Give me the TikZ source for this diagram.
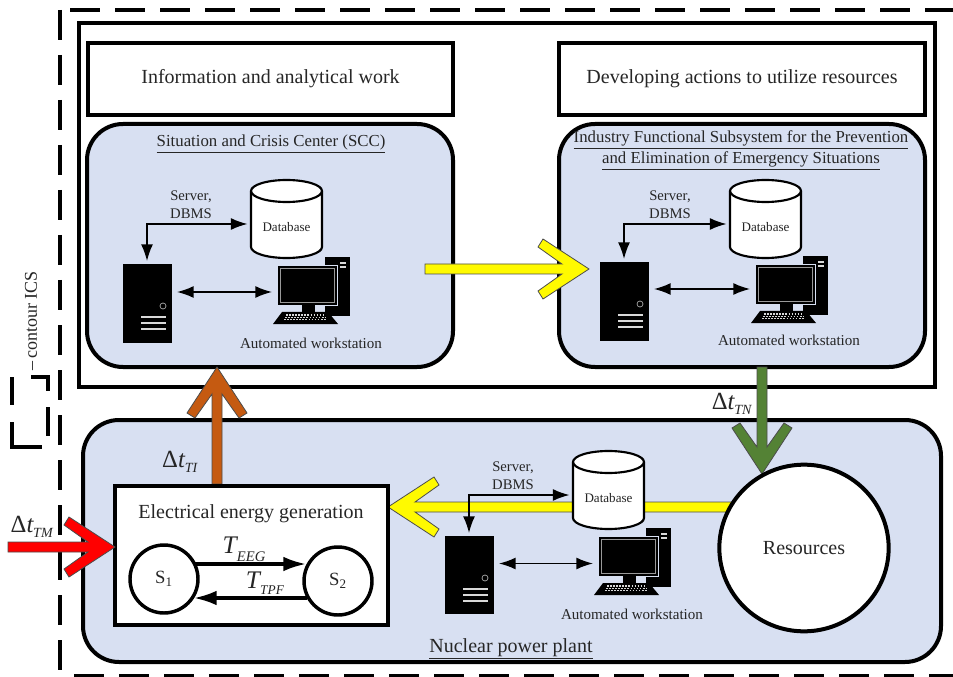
\documentclass[tikz,border=0pt]{standalone}
\usepackage{fontspec}
\setmainfont{Liberation Serif}
\usetikzlibrary{arrows.meta,shapes.geometric,calc}
\definecolor{panel}{RGB}{216,224,242}
\definecolor{ylw}{RGB}{255,250,0}
\definecolor{brn}{RGB}{197,90,17}
\definecolor{grn}{RGB}{84,130,53}
\definecolor{red2}{RGB}{255,0,0}
\tikzset{
 every node/.style={outer sep=0pt},
 panelbox/.style={draw,line width=3pt,fill=panel,rounded corners=27pt},
 whitebox/.style={draw,line width=3pt,fill=white},
 dashline/.style={line width=3pt,dash pattern=on 22.5pt off 11.25pt},
 thinarrow/.style={line width=1.2pt,{Latex[length=12.5pt,width=9pt]}-{Latex[length=12.5pt,width=9pt]}},
 midarrow/.style={line width=2.4pt,-{Latex[length=17pt,width=11pt]}},
 capt/.style={font=\fontsize{11.3pt}{13.5pt}\selectfont,text=black!85},
 ttl/.style={font=\fontsize{15pt}{17pt}\selectfont,text=black!85},
 hdr/.style={font=\fontsize{12.6pt}{14pt}\selectfont,text=black!85},
 statec/.style={circle,draw,line width=2.6pt,fill=white,minimum size=51pt,inner sep=0,font=\fontsize{14pt}{16pt}\selectfont,text=black!85},
 mathl/.style={text=black!85},
}
\newcommand{\dlab}[1]{{\fontsize{18.5pt}{20pt}\selectfont \char"0394\textit{t}\kern-0.5pt\raisebox{-3.5pt}{\fontsize{10.5pt}{12pt}\selectfont\textit{#1}}}}
\newcommand{\tlab}[3]{{\fontsize{19pt}{20pt}\selectfont \textit{T}\kern-1pt\raisebox{#3}{\fontsize{#2}{12pt}\selectfont\textit{#1}}}}
% open fat arrow: tip coordinate, length (px), canvas angle, colour
\newcommand{\fatarrow}[4]{%
 \begin{scope}[shift={(#1)},rotate=#3]
 \draw[draw=black!70,line width=0.6pt,fill=#4,line join=miter]
  (0,0)--(-46,30)--(-51,22)--(-27,5)--(-#2,5)--(-#2,-5)--(-27,-5)--(-51,-22)--(-46,-30)--cycle;
 \end{scope}}
% server tower
\newcommand{\servernode}[4]{% name,x,y(top left), h
 \node[fill=black,draw=black,minimum width=36pt,minimum height=#4*0.75pt,inner sep=0,anchor=north west] (#1) at (#2,#3) {};
 \draw[white!70!black,line width=0.5pt] ($(#1.north west)+(40,42)$) circle (3);
 \foreach \dy in {53,59,65}{\draw[white!85!black,line width=1pt] ($(#1.north west)+(18,\dy)$)--++(25,0);}
}
% database
\newcommand{\dbnode}[3]{% name, x, y (top-left)
 \draw[fill=white,line width=1.6pt] (#2,#3+11) arc[start angle=180,end angle=360,x radius=35.5,y radius=11]
   -- (#2+71,#3+67) arc[start angle=0,end angle=180,x radius=35.5,y radius=11] -- cycle;
 \draw[line width=1.6pt] (#2,#3+11) arc[start angle=180,end angle=0,x radius=35.5,y radius=11];
 \node[capt,font=\fontsize{9.8pt}{11pt}\selectfont] (#1) at (#2+35.5,#3+47) {Database};
}
% workstation
\newcommand{\wsnode}[3]{%
 \fill[black] (#2+48,#3) rectangle (#2+73,#3+59);
 \fill[white!85!black] (#2+63,#3+5) rectangle (#2+69,#3+7);
 \fill[white!85!black] (#2+63,#3+9) rectangle (#2+69,#3+11);
 \path[fill=black,draw=panel,line width=0.6pt] (#2,#3+8) rectangle (#2+60,#3+48);
 \draw[white!60!black,line width=0.4pt] (#2+3,#3+11) rectangle (#2+57,#3+45);
 \fill[black] (#2+25,#3+48) rectangle (#2+38,#3+55);
 \fill[black] (#2+5,#3+55) -- (#2+51,#3+55) -- (#2+61,#3+67) -- (#2-4,#3+67) -- cycle;
 \foreach \k in {0,1,2}{\draw[white!85!black,line width=0.8pt,dash pattern=on 1.3pt off 1pt] (#2+9-\k,#3+58+2.3*\k)--(#2+47+\k,#3+58+2.3*\k);}
 \coordinate (#1) at (#2-5,#3+35);
}
\begin{document}
\begin{tikzpicture}[x=0.75pt,y=-0.75pt]
\useasboundingbox (0,0) rectangle (953,677);
\fill[white] (0,0) rectangle (953,677);
% outer contour
\coordinate (o1) at (60,10); \coordinate (o2) at (60,677);
\coordinate (o3) at (70,10); \coordinate (o4) at (953,10);
\coordinate (o5) at (74,676); \coordinate (o6) at (953,676);
\draw[dashline] (o1)--(o2);
\draw[dashline] (o3)--(o4);
\draw[dashline] (o5)--(o6);
% legend
\draw[line width=3pt] (31,377)--(48,377)--(48,391);
\draw[line width=3pt] (12,377)--(12,405);
\draw[line width=3pt] (48,407)--(48,436);
\draw[line width=3pt] (12,422)--(12,447)--(42,447);
\node[rotate=90,anchor=west,font=\fontsize{13.5pt}{14pt}\selectfont,text=black!85] (legend) at (31,375) {--\,contour ICS};
% inner box
\node[whitebox,anchor=north west,minimum width=642pt,minimum height=273pt,inner sep=0] (ics) at (79,23) {};
\node[whitebox,anchor=north west,minimum width=273.75pt,minimum height=54pt,inner sep=0,ttl] (h1) at (88,43) {\raisebox{-1.2pt}{Information and analytical work}};
\node[whitebox,anchor=north west,minimum width=274.5pt,minimum height=54pt,inner sep=0,ttl] (h2) at (559,43) {\raisebox{-1.2pt}{Developing actions to utilize resources}};
% panels
\node[panelbox,anchor=north west,minimum width=274.5pt,minimum height=182.25pt,inner sep=0] (scc) at (87,124) {};
\node[panelbox,anchor=north west,minimum width=274.5pt,minimum height=182.25pt,inner sep=0] (ifs) at (559,124) {};
\node[hdr] (scct) at (271,144) {\underline{Situation and Crisis Center (SCC)}};
\node[hdr] (ifst1) at (741,140) {\underline{Industry Functional Subsystem for the Prevention}};
\node[hdr] (ifst2) at (741,161) {\underline{and Elimination of Emergency Situations}};
\node[panelbox,anchor=north west,minimum width=643.5pt,minimum height=181.5pt,inner sep=0] (npp) at (83,420) {};
\node[ttl] (nppt) at (511,649) {\underline{Nuclear power plant}};
% big arrows behind
\coordinate (yt) at (589,269);
\fatarrow{yt}{164}{0}{ylw}
\coordinate (bt) at (217,367);
\fatarrow{bt}{117}{90}{brn}
\coordinate (gt) at (762,474);
\fatarrow{gt}{107}{-90}{grn}
\coordinate (nt) at (388,507);
\fatarrow{nt}{344}{180}{ylw}
% SCC group
\dbnode{d1}{251}{180}
\servernode{s1}{123}{264}{78}
\wsnode{w1}{277}{257}
\node[capt] (a1) at (311,343) {Automated workstation};
\node[capt,align=center,font=\fontsize{11pt}{13.5pt}\selectfont] (l1) at (191,205) {Server,\\DBMS};
\draw[thinarrow] ($(s1.north)+(0,-3)$) |- ($(d1.center)+(-39,-3)$);
\draw[thinarrow] ($(s1.east)+(6,-11)$) -- (w1|-{$(s1.east)+(6,-11)$});
% IFS group
\dbnode{d2}{730}{180}
\servernode{s2}{600}{262}{78}
\wsnode{w2}{755}{256}
\node[capt] (a2) at (789,340) {Automated workstation};
\node[capt,align=center,font=\fontsize{11pt}{13.5pt}\selectfont] (l2) at (670,205) {Server,\\DBMS};
\draw[thinarrow] ($(s2.north)+(0,-3)$) |- ($(d2.center)+(-39,-3)$);
\draw[thinarrow] ($(s2.east)+(6,-12)$) -- (w2|-{$(s2.east)+(6,-12)$});
% NPP group
\dbnode{d3}{573}{451}
\servernode{s3}{445}{536}{77}
\wsnode{w3}{598}{528}
\node[capt] (a3) at (632,614) {Automated workstation};
\node[capt,align=center,font=\fontsize{11pt}{13.5pt}\selectfont] (l3) at (513,476) {Server,\\DBMS};
\draw[thinarrow] ($(s3.north)+(0,-3)$) |- ($(d3.center)+(-39,-3)$);
\draw[thinarrow] ($(s3.east)+(6,-11)$) -- (w3|-{$(s3.east)+(6,-11)$});
% Resources
\node[ellipse,draw,line width=3pt,fill=white,minimum width=127pt,minimum height=125pt,inner sep=0,ttl] (res) at (804,548) {Resources};
% EEG
\node[whitebox,anchor=north west,minimum width=204.75pt,minimum height=104.25pt,inner sep=0] (eeg) at (115,486) {};
\node[ttl] (eegt) at (251,514) {Electrical energy generation};
\node[statec] (S1) at (164,579) {S\textsubscript{1}};
\node[statec] (S2) at (338,581) {S\textsubscript{2}};
\draw[midarrow] ($(S1.center)+(30,-15)$) -- ($(S2.center)+(-32,-17)$);
\draw[midarrow] ($(S2.center)+(-31,17)$) -- ($(S1.center)+(30,19)$);
\node[mathl] (tt1) at (244,549) {\tlab{EEG}{11pt}{-6pt}};
\node[mathl] (tt2) at (265,583) {\tlab{TPF}{10pt}{-4.5pt}};
\node[mathl] (dt1) at (180,462) {\dlab{TI}};
\node[mathl] (dt2) at (732,404) {\dlab{TN}};
\node[mathl] (dt3) at (32,527) {\dlab{TM}};
% red arrow on top
\coordinate (rt) at (115,547);
\fatarrow{rt}{107}{0}{red2}
\end{tikzpicture}
\end{document}
